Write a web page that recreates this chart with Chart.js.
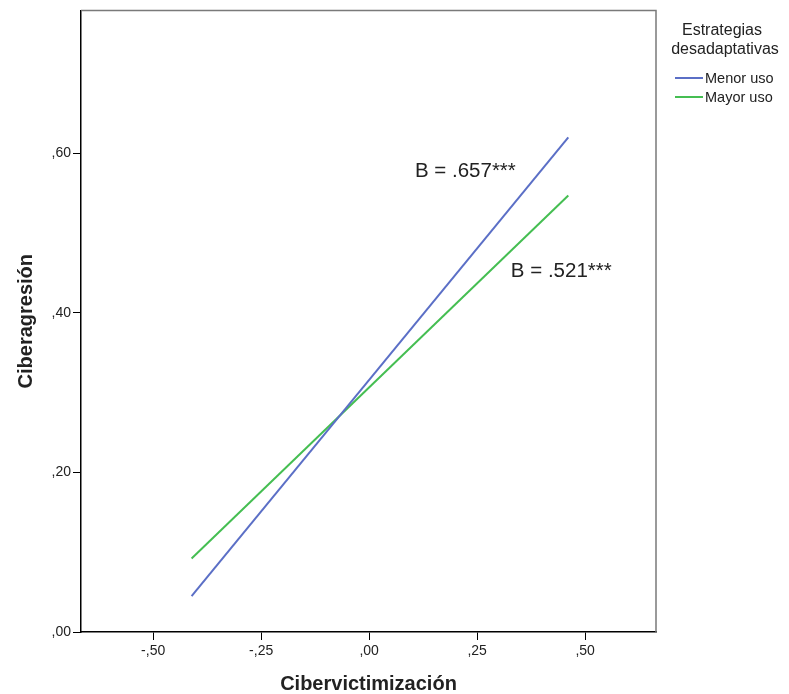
<!DOCTYPE html>
<html>
<head>
<meta charset="utf-8">
<script src="https://cdn.jsdelivr.net/npm/chart.js@4.4.1/dist/chart.umd.min.js"></script>
<style>
  html, body { margin: 0; padding: 0; background: #fff; }
  #wrap { width: 789px; height: 694px; position: relative; }
</style>
</head>
<body>
<div id="wrap"><canvas id="grafico"></canvas></div>
<script>
// datos
const xExtremos = [-0.411, 0.461];          // cibervictimización (centrada)
const menorUso  = [0.045, 0.620];           // estrategias desadaptativas: menor uso
const mayorUso  = [0.092, 0.547];           // estrategias desadaptativas: mayor uso
const etiquetasSerie = ['Menor uso', 'Mayor uso'];
const xTicks = [-0.50, -0.25, 0, 0.25, 0.50];
const yTicks = [0, 0.20, 0.40, 0.60];
const anotaciones = [
  { texto: 'B = .657***', x: 0.106, y: 0.577 },
  { texto: 'B = .521***', x: 0.328, y: 0.452 }
];

const AZUL = '#5b6fc6';
const VERDE = '#45be52';
const FUENTE = '"Liberation Sans", Arial, sans-serif';

// formato tipo SPSS: ",60" / "-,25"
function formatoComa(v) {
  const s = Math.abs(v).toFixed(2).replace('0.', ',');
  return (v < 0 ? '-' : '') + s;
}

function puntos(ys) {
  return xExtremos.map((x, i) => ({ x: x, y: ys[i] }));
}

// marco superior/derecho, anotaciones y leyenda
const extras = {
  id: 'extras',
  afterDraw(chart) {
    const ctx = chart.ctx;
    const a = chart.chartArea;
    const sx = chart.scales.x, sy = chart.scales.y;
    ctx.save();
    ctx.strokeStyle = '#7a7a7a';
    ctx.lineWidth = 1.5;
    ctx.beginPath();
    ctx.moveTo(a.left, a.top);
    ctx.lineTo(a.right, a.top);
    ctx.lineTo(a.right, a.bottom);
    ctx.stroke();

    ctx.fillStyle = '#222';
    ctx.font = '20.5px ' + FUENTE;
    ctx.textAlign = 'left';
    ctx.textBaseline = 'middle';
    anotaciones.forEach(an => {
      ctx.fillText(an.texto, sx.getPixelForValue(an.x), sy.getPixelForValue(an.y));
    });

    // leyenda
    ctx.fillStyle = '#222';
    ctx.textAlign = 'center';
    ctx.font = '16px ' + FUENTE;
    ctx.fillText('Estrategias', 722, 31);
    ctx.fillText('desadaptativas', 725, 50);
    ctx.textAlign = 'left';
    ctx.font = '14.5px ' + FUENTE;
    [AZUL, VERDE].forEach((c, i) => {
      const y = 78 + i * 19;
      ctx.strokeStyle = c;
      ctx.lineWidth = 2;
      ctx.beginPath();
      ctx.moveTo(675, y);
      ctx.lineTo(703, y);
      ctx.stroke();
      ctx.fillText(etiquetasSerie[i], 705, y + 1);
    });
    ctx.restore();
  }
};

new Chart(document.getElementById('grafico'), {
  type: 'scatter',
  data: {
    datasets: [
      { label: etiquetasSerie[0], data: puntos(menorUso), showLine: true,
        borderColor: AZUL, borderWidth: 2, pointRadius: 0 },
      { label: etiquetasSerie[1], data: puntos(mayorUso), showLine: true,
        borderColor: VERDE, borderWidth: 2, pointRadius: 0 }
    ]
  },
  options: {
    responsive: true,
    maintainAspectRatio: false,
    animation: false,
    layout: { padding: { top: 10, right: 133, left: 0, bottom: 0 } },
    plugins: { legend: { display: false }, tooltip: { enabled: false } },
    scales: {
      x: {
        type: 'linear',
        min: -0.667, max: 0.664,
        afterBuildTicks: s => { s.ticks = xTicks.map(v => ({ value: v })); },
        afterFit: s => { s.height = 62; },
        grid: { drawOnChartArea: false, drawTicks: true, tickLength: 8, color: '#000' },
        border: { display: true, color: '#000', width: 1.5 },
        ticks: { color: '#222', font: { family: FUENTE, size: 14 }, padding: 3,
                 maxRotation: 0, callback: v => formatoComa(v) },
        title: { display: true, text: 'Cibervictimización', color: '#222',
                 font: { family: FUENTE, size: 20, weight: 'bold', lineHeight: 1 },
                 padding: { top: 4, bottom: 0 } }
      },
      y: {
        type: 'linear',
        min: 0, max: 0.779,
        afterBuildTicks: s => { s.ticks = yTicks.map(v => ({ value: v })); },
        afterFit: s => { s.width = 81; },
        grid: { drawOnChartArea: false, drawTicks: true, tickLength: 8, color: '#000' },
        border: { display: true, color: '#000', width: 1.5 },
        ticks: { color: '#222', font: { family: FUENTE, size: 14 }, padding: 2,
                 callback: v => formatoComa(v) },
        title: { display: true, text: 'Ciberagresión', color: '#222',
                 font: { family: FUENTE, size: 20, weight: 'bold' }, padding: { top: 14, bottom: 0 } }
      }
    }
  },
  plugins: [extras]
});
</script>
</body>
</html>
